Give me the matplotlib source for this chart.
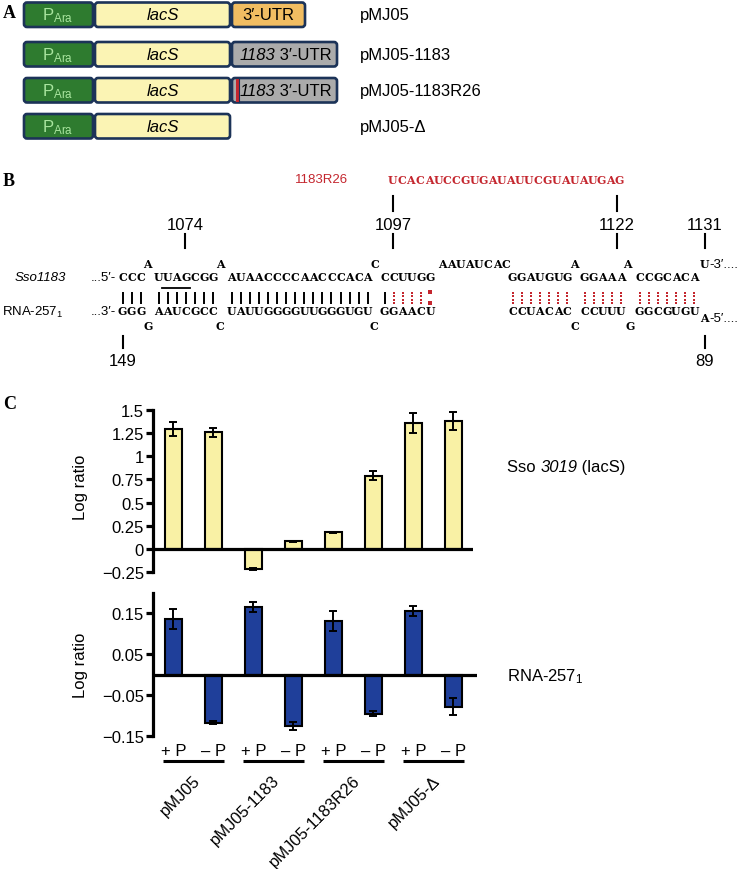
import numpy as np
import matplotlib
matplotlib.use("Agg")
import matplotlib.pyplot as plt
from matplotlib.patches import FancyBboxPatch, Rectangle
from matplotlib.transforms import blended_transform_factory

plt.rcParams['font.family'] = ['Liberation Sans', 'DejaVu Sans']
plt.rcParams['mathtext.fontset'] = 'custom'
plt.rcParams['mathtext.rm'] = 'Liberation Sans'
plt.rcParams['mathtext.it'] = 'Liberation Sans:italic'

# ---- data ----
constructs = ["pMJ05", "pMJ05-1183", "pMJ05-1183R26", "pMJ05-\u0394"]
conditions = ["+ P", "\u2013 P"]
utr_labels = [[("3\u2032-UTR", 'normal')],
              [("1183", 'italic'), (" 3\u2032-UTR", 'normal')],
              [("1183", 'italic'), (" 3\u2032-UTR", 'normal')],
              None]

# panel C, bars ordered pMJ05 +P, -P, pMJ05-1183 +P, -P, ...
lacs_ratio = [1.29, 1.26, -0.215, 0.08, 0.18, 0.79, 1.36, 1.38]
lacs_err = [0.075, 0.05, 0.01, 0.008, 0.006, 0.05, 0.11, 0.10]
rna_ratio = [0.137, -0.117, 0.166, -0.125, 0.132, -0.095, 0.156, -0.078]
rna_err = [0.025, 0.003, 0.012, 0.01, 0.025, 0.005, 0.012, 0.02]
lacs_ticks = [1.5, 1.25, 1, 0.75, 0.5, 0.25, 0, -0.25]
lacs_ticklabels = ["1.5", "1.25", "1", "0.75", "0.5", "0.25", "0", "\u22120.25"]
rna_ticks = [0.15, 0.05, -0.05, -0.15]
rna_ticklabels = ["0.15", "0.05", "\u22120.05", "\u22120.15"]

# panel B, duplex
sso_seq = ["CCC", "UUAGCGG", "AUAACCCCAACCCACA", "CCUUGG", "GGAUGUG", "GGAAA", "CCGCACA"]
rna_seq = ["GGG", "AAUCGCC", "UAUUGGGGUUGGGUGU", "GGAACU", "CCUACAC", "CCUUU", "GGCGUGU"]
pairing = ["|||", "|||||||", "||||||||||||||||", "|::::w", ":::::::", ":::::", ":::::::"]
sso_bulges = ["A", "A", "C", "AAUAUCAC", "A", "A"]
rna_bulges = ["G", "C", "C", "C", "G"]
r26_seq = "UCACAUCCGUGAUAUUCGUAUAUGAG"
sso_pos = ["1074", "1097", "1122", "1131"]
rna_pos = ["149", "89"]

W, H = 745, 870
fig = plt.figure(figsize=(W / 100, H / 100), dpi=100)
cv = fig.add_axes([0, 0, 1, 1])
cv.set_xlim(0, W)
cv.set_ylim(H, 0)
cv.axis('off')
renderer = fig.canvas.get_renderer()

RED = '#c4262e'
NAVY = '#1c3358'
seqfont = dict(family='DejaVu Serif', fontweight='bold', fontsize=7.9)

def rich(x, y, parts, ha='left', fontsize=12):
    # text made of pieces with different styles, laid side by side
    items = []
    cur = x
    for s, st in parts:
        t = cv.text(cur, y, s, style=st, fontsize=fontsize, ha='left', va='center')
        w = t.get_window_extent(renderer).width
        items.append(t)
        cur += w
    if ha == 'center':
        shift = (cur - x) / 2
        for t in items:
            px, py = t.get_position()
            t.set_position((px - shift, py))

def panel_letter(x, y, s):
    cv.text(x, y, s, family='Liberation Serif', fontweight='bold', fontsize=13, va='center', ha='left')

# ---- panel A ----
panel_letter(3, 14, "A")
row_tops = [3.5, 43, 79, 115]
box_h = 24.5
def box(x0, x1, y0, fc):
    p = FancyBboxPatch((x0, y0), x1 - x0, box_h, boxstyle="round,pad=0,rounding_size=3",
                       fc=fc, ec=NAVY, lw=1.9)
    cv.add_patch(p)

for i, name in enumerate(constructs):
    y0 = row_tops[i]
    yc = y0 + box_h / 2
    box(24, 93, y0, '#2e7b2f')
    cv.text(58, yc, r"P$_{\mathrm{Ara}}$", color='#a9e59f', fontsize=12, ha='center', va='center')
    box(95, 230, y0, '#fbf4b4')
    cv.text(162.5, yc, "lacS", style='italic', fontsize=12, ha='center', va='center')
    if utr_labels[i] is not None:
        if i == 0:
            box(232, 305, y0, '#f1bd62')
            rich(268.5, yc, utr_labels[i], ha='center')
        else:
            box(232, 337, y0, '#ababab')
            if i == 2:
                cv.add_patch(Rectangle((236, y0 + 1), 2.6, box_h - 2, fc=RED, ec='none'))
                cv.plot([239.3, 239.3], [y0 + 1, y0 + box_h - 1], color=NAVY, lw=0.8)
            rich(285.5, yc, utr_labels[i], ha='center')
    cv.text(360, yc, name, fontsize=12, ha='left', va='center')

# ---- panel B ----
panel_letter(3, 182, "B")
pitch = 9.08
def draw_seq(x_left, y, s, color='k'):
    for k, ch in enumerate(s):
        cv.text(x_left + pitch * (k + 0.5), y, ch, color=color, ha='center', va='center', **seqfont)

y_top_b, y_sso, y_rna, y_bot_b = 265, 278, 312, 327
seg_x = [118, 154, 227, 380, 508, 580, 635]
sso_bulge_x = [147, 220, 375, 442.5, 574, 627]
rna_bulge_x = [148, 220, 374, 575, 630]

cv.text(295, 180, "1183R26", color=RED, fontsize=9.5, ha='left', va='center')
draw_seq(388, 181, r26_seq, RED)

for s, x in zip(sso_seq, seg_x):
    draw_seq(x, y_sso, s)
for s, x in zip(rna_seq, seg_x):
    draw_seq(x, y_rna, s)
for s, x in zip(sso_bulges, sso_bulge_x):
    draw_seq(x - pitch / 2, y_top_b, s)
for s, x in zip(rna_bulges, rna_bulge_x):
    draw_seq(x - pitch / 2, y_bot_b, s)

for p, x in zip(pairing, seg_x):
    for k, t in enumerate(p):
        xc = x + pitch * (k + 0.5)
        if t == '|':
            cv.plot([xc, xc], [293, 305], color='k', lw=1.4, solid_capstyle='butt')
        elif t == ':':
            cv.plot([xc] * 4, [293.5, 297, 300.5, 304], ls='none', marker='s', ms=1.8, color=RED, mew=0)
        else:
            cv.plot([xc] * 2, [292.5, 304], ls='none', marker='s', ms=2.7, color=RED, mew=0)

# stop codon underline
cv.plot([162, 190], [289, 289], color='k', lw=1.3)

cv.text(15, y_sso, "Sso1183", style='italic', fontsize=9.5, ha='left', va='center')
cv.text(2, y_rna, "RNA-257$_1$", fontsize=9.5, ha='left', va='center')
cv.text(116, y_sso, "...5\u2032-", fontsize=9.5, ha='right', va='center')
cv.text(116, y_rna, "...3\u2032-", fontsize=9.5, ha='right', va='center')
draw_seq(704.5 - pitch / 2, y_top_b, "U")
cv.text(709.5, y_top_b, "-3\u2032....", fontsize=9.5, ha='left', va='center')
draw_seq(704 - pitch / 2, 319, "A")
cv.text(709, 319, "-5\u2032....", fontsize=9.5, ha='left', va='center')

# position markers
sso_tick_x = [185, 393, 617, 705]
for lab, x in zip(sso_pos, sso_tick_x):
    cv.text(x, 225, lab, fontsize=12, ha='center', va='center')
    cv.plot([x, x], [235, 249], color='k', lw=1.5)
for x in [393, 617]:
    cv.plot([x, x], [197, 212], color='k', lw=1.5)
rna_tick_x = [123, 705]
for lab, x in zip(rna_pos, rna_tick_x):
    cv.plot([x, x], [337, 349], color='k', lw=1.5)
    cv.text(x, 362, lab, fontsize=12, ha='center', va='center')

# ---- panel C ----
panel_letter(3, 405, "C")

def fig_rect(x0, y0, x1, y1):
    return [x0 / W, 1 - y1 / H, (x1 - x0) / W, (y1 - y0) / H]

xpos = np.arange(len(constructs) * len(conditions))
ax1 = fig.add_axes(fig_rect(153, 411, 473, 573))
ax2 = fig.add_axes(fig_rect(153, 594, 477, 737))

def style_axis(ax, vals, errs, color, ticks, ticklabels, ylim, xlim):
    ax.set_facecolor('none')
    ax.bar(xpos, vals, width=0.43, color=color, edgecolor='k', linewidth=1.5, zorder=2)
    ax.errorbar(xpos, vals, yerr=errs, fmt='none', ecolor='k', elinewidth=1.4,
                capsize=3, capthick=1.4, zorder=3)
    ax.axhline(0, color='k', lw=2.3, zorder=4)
    ax.set_xlim(*xlim)
    ax.set_ylim(*ylim)
    for sp in ['top', 'right', 'bottom']:
        ax.spines[sp].set_visible(False)
    ax.spines['left'].set_linewidth(2.3)
    ax.spines['left'].set_bounds(*ylim)
    ax.set_yticks(ticks)
    ax.set_yticklabels(ticklabels)
    ax.tick_params(axis='y', direction='out', length=5, width=2.3, labelsize=12, pad=1.5)
    ax.tick_params(axis='x', length=0, labelbottom=False)

style_axis(ax1, lacs_ratio, lacs_err, '#f9f1a5', lacs_ticks, lacs_ticklabels, (-0.25, 1.5), (-0.51, 7.49))
style_axis(ax2, rna_ratio, rna_err, '#1f3f9a', rna_ticks, rna_ticklabels, (-0.15, 0.2), (-0.51, 7.59))

cv.text(80, 487, "Log ratio", fontsize=12, rotation=90, ha='center', va='center')
cv.text(80, 665, "Log ratio", fontsize=12, rotation=90, ha='center', va='center')

rich(507, 468, [("Sso ", 'normal'), ("3019", 'italic'), (" (lacS)", 'normal')], fontsize=12)
cv.text(507, 677, "RNA-257$_1$", fontsize=12, ha='left', va='center')

tr = blended_transform_factory(ax2.transData, cv.transData)
for i, x in enumerate(xpos):
    cv.text(x, 752, conditions[i % len(conditions)], fontsize=12, ha='center', va='center', transform=tr)
for g, name in enumerate(constructs):
    x0 = xpos[2 * g]
    cv.plot([x0 - 0.27, x0 + 1.27], [762, 762], color='k', lw=2.2, transform=tr, solid_capstyle='butt')
    cv.text(x0 + 0.47, 773, name, fontsize=12, ha='right', va='top', rotation=45,
            rotation_mode='anchor', transform=tr)

fig.savefig("out.png", dpi=100)
